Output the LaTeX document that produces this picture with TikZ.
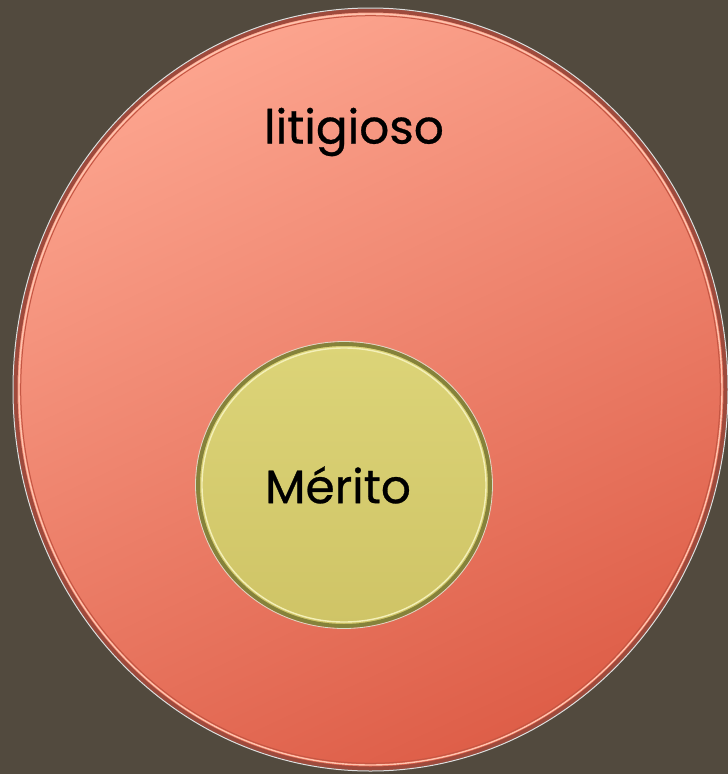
\documentclass[tikz,border=0pt]{standalone}
\usepackage{fontspec}
\setmainfont{Poppins}
\newfontfamily\lblfont{Poppins}[FakeBold=0.6]
\usetikzlibrary{shapes.geometric}
\definecolor{bgc}{HTML}{524A3E}
\definecolor{redlight}{HTML}{FCA48E}
\definecolor{reddark}{HTML}{DE5E48}
\definecolor{redrim}{HTML}{9E4A3C}
\definecolor{redhi}{HTML}{FFC4AE}
\definecolor{yellight}{HTML}{DCD478}
\definecolor{yeldark}{HTML}{CFC466}
\definecolor{yelrim}{HTML}{85823A}
\definecolor{yelhi}{HTML}{F4F0B8}
\tikzset{
  outerc/.style={ellipse, inner sep=0pt, minimum width=710pt, minimum height=758pt,
    top color=redlight, bottom color=reddark, shading angle=25,
    draw=redrim, line width=4pt},
  innerc/.style={ellipse, inner sep=0pt, minimum width=292pt, minimum height=282pt,
    top color=yellight, bottom color=yeldark,
    draw=yelrim, line width=4pt},
  lbl/.style={font=\lblfont\fontsize{47}{52}\selectfont, text=black},
}
\begin{document}
\begin{tikzpicture}[x=1pt,y=-1pt]
\fill[bgc] (0,0) rectangle (728,774);
\useasboundingbox (0,0) rectangle (728,774);
\node[outerc] (outer) at (370.5,389.5) {};
\draw[white!75!gray, line width=1pt] (outer.center) ellipse [x radius=357.5, y radius=381.5];
\draw[redhi, line width=1.4pt] (outer.center) ellipse [x radius=351.5, y radius=375.5];
\draw[redrim!40!reddark, line width=1pt] (outer.center) ellipse [x radius=349.8, y radius=373.8];
\node[innerc] (inner) at (344,485) {};
\draw[yelhi, line width=1.4pt] (inner.center) ellipse [x radius=142, y radius=137];
\draw[white!70!yelrim, line width=0.8pt] (inner.center) ellipse [x radius=148.5, y radius=143.5];
\node[lbl] (lit) at (354,132) {litigioso};
\node[lbl] (mer) at (338,485) {Mérito};
\end{tikzpicture}
\end{document}
